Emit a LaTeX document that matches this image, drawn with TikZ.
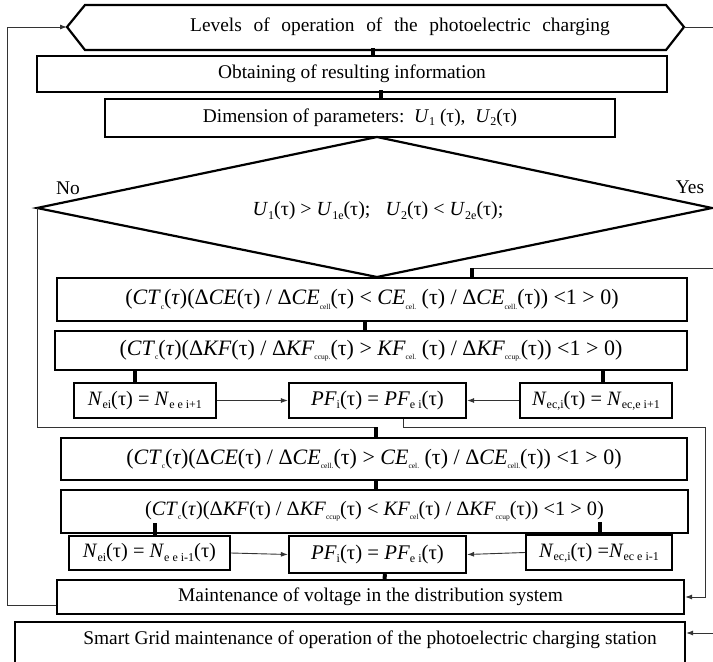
\documentclass[tikz,border=0pt]{standalone}
\usepackage{fontspec}
\setmainfont{Liberation Serif}
\usetikzlibrary{arrows.meta}
\newcommand{\vv}[1]{\textit{#1}}
\newcommand{\lo}[1]{\raisebox{-0.35ex}{\fontsize{12}{12}\selectfont #1}}
\newcommand{\los}[1]{\raisebox{-0.45ex}{\fontsize{7.5}{7.5}\selectfont #1}}
\newcommand{\wsp}{\hspace{0.6em}}
\begin{document}
\begin{tikzpicture}[x=1pt,y=-1pt,
  box/.style={draw, line width=2.2pt, inner sep=0pt, align=center, font=\fontsize{19.4}{22}\selectfont},
  shp/.style={draw, line width=2.2pt, line join=miter},
  thinln/.style={draw=black!80, line width=0.9pt},
  arr/.style={thinln, -{Latex[length=7pt,width=5pt]}},
  stub/.style={draw=black, line width=4pt},
  lbl/.style={inner sep=0pt, font=\fontsize{19.4}{22}\selectfont},
  big/.style={font=\fontsize{22}{25}\selectfont},
  mid/.style={font=\fontsize{20.4}{23}\selectfont},
  pfs/.style={font=\fontsize{20.8}{23}\selectfont}
]
\useasboundingbox (0,0) rectangle (713,662);

% hexagon
\coordinate (hexL) at (67,27);
\coordinate (hexR) at (684,27);
\draw[shp] (hexL) -- (85,5) -- (666,5) -- (hexR) -- (666,50) -- (85,50) -- cycle;
\node[lbl] (hex) at (400,27) {Levels\wsp of\wsp operation\wsp of\wsp the\wsp photoelectric\wsp charging};

% boxes
\node[box, minimum width=630pt, minimum height=36pt] (obt) at (352,74) {Obtaining of resulting information};
\node[box, minimum width=510pt, minimum height=38pt] (dim) at (360,118) {Dimension of parameters:\ \ \vv{U}\lo{1} (τ),\ \ \vv{U}\lo{2}(τ)};

% diamond
\coordinate (dL) at (37,208);
\coordinate (dT) at (377,137);
\coordinate (dR) at (712,208);
\coordinate (dB) at (377,277);
\draw[shp] (dL) -- (dT) -- (dR) -- (dB) -- cycle;
\node[lbl, font=\fontsize{20}{22}\selectfont] (dtxt) at (378,211) {\vv{U}\lo{1}(τ) > \vv{U}\lo{1e}(τ);\ \ \ \vv{U}\lo{2}(τ) < \vv{U}\lo{2e}(τ);};
\node[lbl] (no) at (68,188) {No};
\node[lbl] (yes) at (690,187) {Yes};

\node[box, big, minimum width=630pt, minimum height=43pt] (ct1) at (372,299.5)
 {(\vv{CT}\los{c}(\textit{τ})(Δ\vv{CE}(τ) / Δ\vv{CE}\los{cell}(τ) < \vv{CE}\los{cel.} (τ) / Δ\vv{CE}\los{cell.}(τ)) <1 > 0)};
\node[box, big, minimum width=632pt, minimum height=39pt] (ct2) at (371,350.5)
 {(\vv{CT}\los{c}(\textit{τ})(Δ\vv{KF}(τ) / Δ\vv{KF}\los{ccup.}(τ) > \vv{KF}\los{cel.} (τ) / Δ\vv{KF}\los{ccup.}(τ)) <1 > 0)};

\node[box, mid, minimum width=142pt, minimum height=35pt] (nei1) at (145,400.5) {\vv{N}\lo{ei}(τ) = \vv{N}\lo{e e i+1}};
\node[box, pfs, minimum width=177pt, minimum height=35pt] (pf1) at (377.5,400.5) {\vv{PF}\lo{i}(τ) = \vv{PF}\lo{e i}(τ)};
\node[box, mid, minimum width=152pt, minimum height=35pt] (necc1) at (596,400.5) {\vv{N}\lo{ec,i}(τ) = \vv{N}\lo{ec,e i+1}};

\node[box, big, minimum width=626pt, minimum height=42pt] (ct3) at (374,459)
 {(\vv{CT}\los{c}(\textit{τ})(Δ\vv{CE}(τ) / Δ\vv{CE}\los{cell.}(τ) > \vv{CE}\los{cel.} (τ) / Δ\vv{CE}\los{cell.}(τ)) <1 > 0)};
\node[box, mid, minimum width=627pt, minimum height=43pt] (ct4) at (374.5,511.5)
 {(\vv{CT}\los{c}(\textit{τ})(Δ\vv{KF}(τ) / Δ\vv{KF}\los{ccup}(τ) < \vv{KF}\los{cel}(τ) / Δ\vv{KF}\los{ccup}(τ)) <1 > 0)};

\node[box, mid, minimum width=161pt, minimum height=34pt] (nei2) at (149.5,553) {\vv{N}\lo{ei}(τ) = \vv{N}\lo{e e i-1}(τ)};
\node[box, pfs, minimum width=177pt, minimum height=37pt] (pf2) at (377.5,554.5) {\vv{PF}\lo{i}(τ) = \vv{PF}\lo{e i}(τ)};
\node[box, mid, minimum width=146pt, minimum height=35pt] (necc2) at (599,552.5) {\vv{N}\lo{ec,i}(τ) =\vv{N}\lo{ec e i-1}};

\node[box, minimum width=627pt, minimum height=34pt] (maint) at (370.5,597) {Maintenance of voltage in the distribution system};
\node[box, minimum width=670pt, minimum height=50pt] (smart) at (350,647) {};
\node[lbl] (smartT) at (370,640) {Smart Grid maintenance of operation of the photoelectric charging station};

% connectors
\draw[arr] ([yshift=-8pt]maint.west) -- ++(-48,0) |- (hexL);
\coordinate (eR1) at (716,27);
\draw[thinln] (hexR) -- (eR1);
\draw[stub] ([xshift=21pt]obt.north) -- ++(0,-7);
\draw[stub] ([xshift=21pt]dim.north) -- ++(0,-8);

\coordinate (nob) at (376,427);
\draw[thinln] (dL) |- (nob);
\draw[stub] (nob) -- (nob |- ct3.north);

\coordinate (yesIn) at (716,268);
\coordinate (yesT) at (472,268);
\draw[thinln] (yesIn) -- (yesT);
\draw[stub] (yesT) -- (yesT |- ct1.north);

\draw[stub] ([xshift=-7pt]ct1.south) -- ([xshift=-6pt]ct2.north);
\draw[stub] ([xshift=-10pt]nei1.north) -- ++(0,-13);
\draw[stub] ([xshift=7pt]necc1.north) -- ++(0,-13);
\draw[arr] (nei1.east) -- (pf1.west);
\draw[arr] (necc1.west) -- (pf1.east);

\coordinate (rR) at (705,427);
\draw[arr] ([xshift=25.5pt]pf1.south) |- (rR) |- (maint.east);

\draw[stub] ([xshift=2pt]ct3.south) -- ([xshift=1.5pt]ct4.north);
\draw[stub] ([xshift=5.5pt]nei2.north) -- ++(0,-12);
\draw[stub] ([xshift=1pt]necc2.north) -- ++(0,-12);
\draw[arr] (nei2.east) -- (pf2.west);
\draw[arr] (necc2.west) -- (pf2.east);
\draw[stub] ([xshift=7.5pt]pf2.south) -- ([xshift=14pt]maint.north);

\coordinate (sgIn) at (716,633);
\draw[arr] (sgIn) -- (sgIn -| smart.east);
\end{tikzpicture}
\end{document}
